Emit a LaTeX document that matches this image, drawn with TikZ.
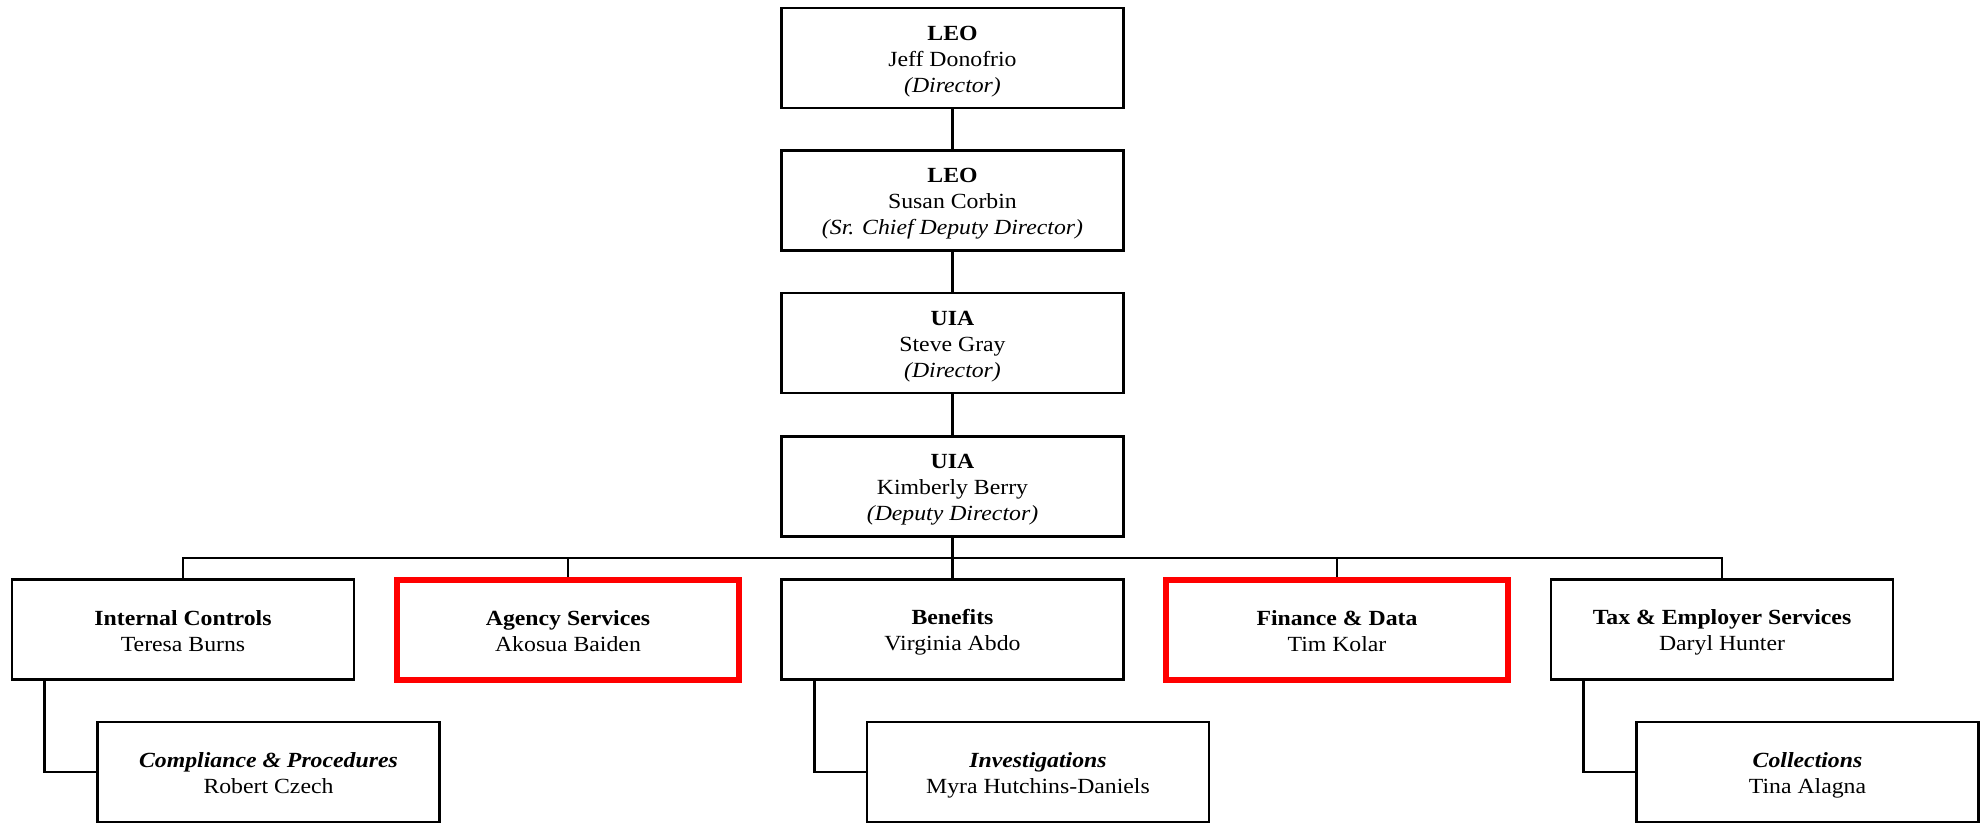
\documentclass[tikz,border=0pt]{standalone}
\usepackage{fontspec}
\setmainfont{Liberation Serif}[FakeStretch=1.1]
\newcommand\mytop{\rule{0pt}{21.5pt}}
\newcommand\mybot{\rule[-4.5pt]{0pt}{4.5pt}}
\begin{document}
\begin{tikzpicture}[x=1pt,y=-1pt,
  box/.style={draw=black,line width=2.8pt,minimum width=342pt,minimum height=100pt,
    inner sep=0pt,align=center,font=\fontsize{21.6}{26}\selectfont},
  redbox/.style={box,draw=red,line width=6pt},
  conn/.style={draw=black,line width=2.8pt}]
\useasboundingbox (0,0) rectangle (1981,822);
% top chain
\node[box] (leo1) at (952.5,58) {\mytop\textbf{LEO}\\Jeff Donofrio\\\textit{(Director)}\mybot};
\node[box] (leo2) at (952.5,200.5) {\mytop\textbf{LEO}\\Susan Corbin\\\textit{(Sr. Chief Deputy Director)}\mybot};
\node[box] (uia1) at (952.5,343) {\mytop\textbf{UIA}\\Steve Gray\\\textit{(Director)}\mybot};
\node[box] (uia2) at (952.5,486.5) {\mytop\textbf{UIA}\\Kimberly Berry\\\textit{(Deputy Director)}\mybot};
% row
\node[box] (ic) at (183,629.5) {\mytop\textbf{Internal Controls}\\Teresa Burns\mybot};
\node[redbox] (as) at (568,629.5) {\mytop\textbf{Agency Services}\\Akosua Baiden\mybot};
\node[box] (ben) at (952.5,629.5) {\mytop\textbf{Benefits}\\Virginia Abdo\mybot};
\node[redbox] (fd) at (1337,629.5) {\mytop\textbf{Finance \& Data}\\Tim Kolar\mybot};
\node[box] (tax) at (1722,629.5) {\mytop\textbf{Tax \& Employer Services}\\Daryl Hunter\mybot};
% sub boxes
\node[box] (comp) at (268.5,772) {\mytop\textbf{\textit{Compliance \& Procedures}}\\Robert Czech\mybot};
\node[box] (inv) at (1038,772) {\mytop\textbf{\textit{Investigations}}\\Myra Hutchins-Daniels\mybot};
\node[box] (col) at (1807.5,772) {\mytop\textbf{\textit{Collections}}\\Tina Alagna\mybot};
% connectors
\draw[conn] (leo1.south) -- (leo2.north);
\draw[conn] (leo2.south) -- (uia1.north);
\draw[conn] (uia1.south) -- (uia2.north);
\coordinate (busL) at (183,558);
\coordinate (busR) at (1722,558);
\draw[conn,line cap=rect] (busL) -- (busR);
\draw[conn] (uia2.south) -- (uia2.south |- busL);
\foreach \n in {ic,as,ben,fd,tax}{
  \draw[conn] (\n.north) -- (\n.north |- busL);
}
\draw[conn] ([xshift=34pt]ic.south west) |- (comp.west);
\draw[conn] ([xshift=34pt]ben.south west) |- (inv.west);
\draw[conn] ([xshift=34pt]tax.south west) |- (col.west);
\end{tikzpicture}
\end{document}
